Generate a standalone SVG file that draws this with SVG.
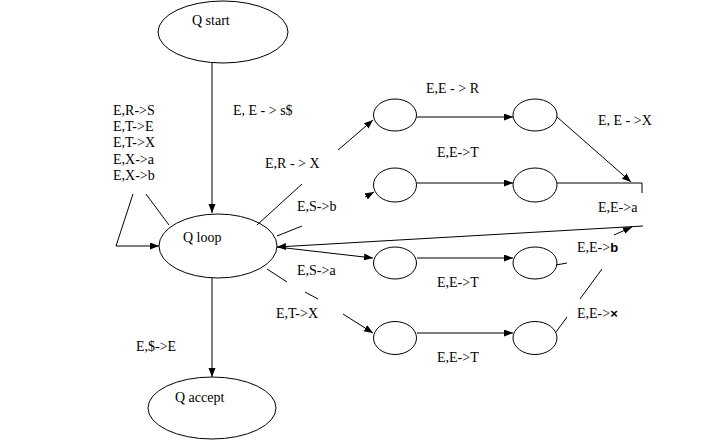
<svg xmlns="http://www.w3.org/2000/svg" width="717" height="443" viewBox="0 0 717 443">
<style>
.n{fill:none;stroke:#000;stroke-width:1}
.c{fill:none;stroke:#000;stroke-width:1}
text{font-family:"Liberation Serif","Times New Roman",serif;font-size:14px;fill:#000}
.b{font-family:"Liberation Sans",Arial,sans-serif;font-weight:bold;font-size:13px}
</style>
<defs>
<marker id="ah" markerUnits="userSpaceOnUse" markerWidth="10" markerHeight="8" refX="9" refY="3.5" orient="auto">
<path d="M0,0 L9,3.5 L0,7 z" fill="#000"/>
</marker>
</defs>
<rect width="717" height="443" fill="#fff"/>
<g id="connectors">
<line class="c" x1="212" y1="63" x2="212" y2="213" marker-end="url(#ah)"/>
<line class="c" x1="212" y1="278" x2="212" y2="377" marker-end="url(#ah)"/>
<polyline class="c" points="133,194 116,246 159,246" marker-end="url(#ah)"/>
<line class="c" x1="146" y1="194" x2="169" y2="225"/>
<line class="c" x1="257" y1="225" x2="302" y2="184"/>
<line class="c" x1="338" y1="150" x2="373" y2="120" marker-end="url(#ah)"/>
<line class="c" x1="417" y1="117" x2="513" y2="117" marker-end="url(#ah)"/>
<line class="c" x1="557" y1="117" x2="631" y2="182" marker-end="url(#ah)"/>
<line class="c" x1="365" y1="197" x2="374" y2="192" marker-end="url(#ah)"/>
<line class="c" x1="417" y1="183" x2="513" y2="183" marker-end="url(#ah)"/>
<polyline class="c" points="557,183 642,183 642,193"/>
<line class="c" x1="277" y1="236" x2="302" y2="226"/>
<line class="c" x1="643" y1="226" x2="277" y2="247" marker-end="url(#ah)"/>
<line class="c" x1="277" y1="247" x2="373" y2="258" marker-end="url(#ah)"/>
<line class="c" x1="417" y1="258" x2="513" y2="258" marker-end="url(#ah)"/>
<line class="c" x1="556" y1="265" x2="567" y2="263"/>
<line class="c" x1="614" y1="235" x2="632" y2="227" marker-end="url(#ah)"/>
<line class="c" x1="580" y1="299" x2="602" y2="269"/>
<line class="c" x1="556" y1="332" x2="567" y2="317"/>
<line class="c" x1="267" y1="269" x2="287" y2="282"/>
<line class="c" x1="305" y1="292" x2="318" y2="299"/>
<line class="c" x1="343" y1="314" x2="373" y2="333" marker-end="url(#ah)"/>
<line class="c" x1="417" y1="333" x2="513" y2="333" marker-end="url(#ah)"/>
</g>
<g id="q-start"><ellipse class="n" cx="223" cy="32" rx="65" ry="31"/><text x="192" y="25">Q start</text></g>
<g id="q-loop"><ellipse class="n" cx="218" cy="246" rx="59" ry="32"/><text x="183" y="242">Q loop</text></g>
<g id="q-accept"><ellipse class="n" cx="212" cy="408" rx="64" ry="31"/><text x="175" y="402">Q accept</text></g>
<g id="s1"><ellipse class="n" cx="395" cy="115" rx="21.5" ry="16"/></g>
<g id="s2"><ellipse class="n" cx="535" cy="115" rx="22" ry="16"/></g>
<g id="s3"><ellipse class="n" cx="395" cy="185" rx="21.5" ry="17"/></g>
<g id="s4"><ellipse class="n" cx="535" cy="185" rx="22" ry="17"/></g>
<g id="s5"><ellipse class="n" cx="395" cy="263" rx="21.5" ry="16"/></g>
<g id="s6"><ellipse class="n" cx="535" cy="263" rx="22" ry="16"/></g>
<g id="s7"><ellipse class="n" cx="395" cy="338" rx="21.5" ry="16.5"/></g>
<g id="s8"><ellipse class="n" cx="535" cy="338" rx="22" ry="16.5"/></g>
<g id="labels">
<text x="233" y="115">E, E - &gt; s$</text>
<text x="113" y="115">E,R-&gt;S</text>
<text x="113" y="131">E,T-&gt;E</text>
<text x="113" y="147">E,T-&gt;X</text>
<text x="113" y="164">E,X-&gt;a</text>
<text x="113" y="180">E,X-&gt;b</text>
<text x="265" y="168">E,R - &gt; X</text>
<text x="297" y="211">E,S-&gt;b</text>
<text x="297" y="275">E,S-&gt;a</text>
<text x="276" y="318">E,T-&gt;X</text>
<text x="136" y="351">E,$-&gt;E</text>
<text x="426" y="93">E,E - &gt; R</text>
<text x="598" y="125">E, E - &gt;X</text>
<text x="437" y="157">E,E-&gt;T</text>
<text x="598" y="212">E,E-&gt;a</text>
<text x="577" y="252">E,E-&gt;<tspan class="b">b</tspan></text>
<text x="437" y="287">E,E-&gt;T</text>
<text x="577" y="318">E,E-&gt;<tspan class="b">×</tspan></text>
<text x="437" y="362">E,E-&gt;T</text>
</g>
</svg>
